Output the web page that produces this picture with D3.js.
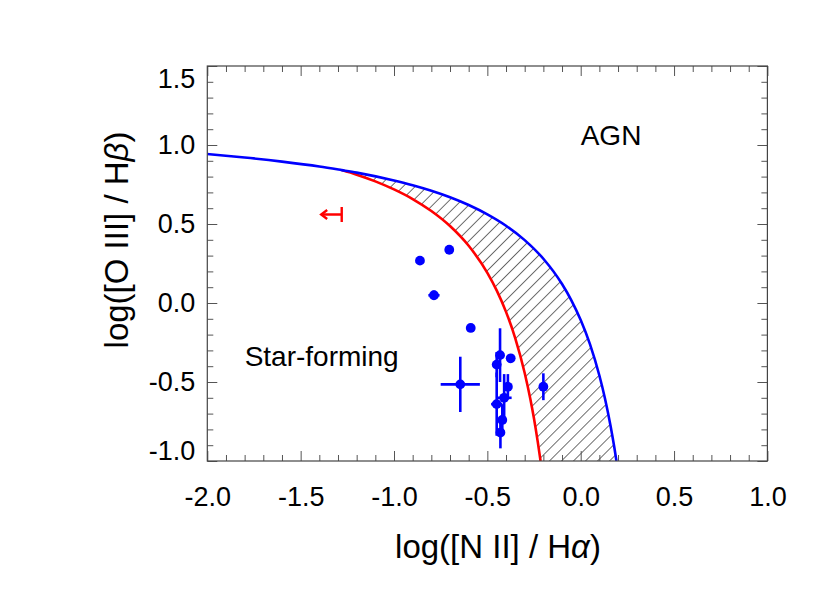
<!DOCTYPE html>
<html><head><meta charset="utf-8">
<script src="https://cdn.jsdelivr.net/npm/d3@7"></script>
<style>
body{margin:0;background:#fff}
text{font-family:"Liberation Sans",Arial,Helvetica,sans-serif;fill:#000}
</style>
</head><body>
<svg id="chart" width="830" height="593"></svg>
<script>
// ---- data ----
const xTickValues = [-2.0, -1.5, -1.0, -0.5, 0.0, 0.5, 1.0];
const xTickLabels = ["-2.0", "-1.5", "-1.0", "-0.5", "0.0", "0.5", "1.0"];
const yTickValues = [-1.0, -0.5, 0.0, 0.5, 1.0, 1.5];
const yTickLabels = ["-1.0", "-0.5", "0.0", "0.5", "1.0", "1.5"];

// maximum-starburst line (blue)
const kewleyX = [-2.0, -1.8, -1.6, -1.4, -1.28, -1.2, -1.0, -0.9, -0.8, -0.7, -0.6, -0.5, -0.4, -0.3, -0.2, -0.1, -0.05, 0.0, 0.05, 0.1, 0.13, 0.16, 0.18, 0.1915];
const kewleyY = [0.943, 0.921, 0.895, 0.864, 0.841, 0.825, 0.775, 0.745, 0.710, 0.669, 0.620, 0.561, 0.489, 0.398, 0.280, 0.120, 0.017, -0.108, -0.262, -0.459, -0.604, -0.778, -0.913, -1.0];
// empirical star-forming line (red)
const kauffX = [-1.28, -1.2, -1.1, -1.0, -0.9, -0.8, -0.7, -0.6, -0.5, -0.45, -0.4, -0.35, -0.3, -0.27, -0.25, -0.23, -0.215];
const kauffY = [0.841, 0.812, 0.770, 0.719, 0.658, 0.582, 0.487, 0.362, 0.191, 0.080, -0.056, -0.225, -0.443, -0.606, -0.733, -0.879, -1.0];

// galaxies (blue points with error bars)
const galNII     = [-0.861, -0.704, -0.786, -0.589, -0.645, -0.432, -0.450, -0.375, -0.390, -0.410, -0.450, -0.420, -0.430, -0.200];
const galOIII    = [ 0.268,  0.337,  0.049, -0.158, -0.515, -0.330, -0.390, -0.350, -0.530, -0.600, -0.640, -0.740, -0.820, -0.530];
const galNIIerr  = [ 0.0,    0.0,    0.03,   0.02,   0.105,  0.02,   0.02,   0.0,    0.02,   0.04,   0.03,   0.02,   0.02,   0.0];
const galOIIIerr = [ 0.0,    0.0,    0.03,   0.02,   0.175,  0.17,   0.08,   0.0,    0.08,   0.15,   0.20,   0.10,   0.10,   0.085];

// upper limit in [N II] (red)
const limNII = [-1.28];
const limOIII = [0.56];
const limLength = [0.11];

// region labels
const regionText = ["AGN", "Star-forming"];
const regionX = [0.0, -1.8];
const regionY = [1.0, -0.4];

// ---- drawing ----
const svg = d3.select("#chart");
svg.append("rect").attr("width", 830).attr("height", 593).attr("fill", "#fff");

const L = 207.3, R = 767.4, T = 66, B = 461;
const x = d3.scaleLinear().domain([-2.0, 1.0]).range([L, R]);
const y = d3.scaleLinear().domain([-1.0, 1.5]).range([B, T]);

const defs = svg.append("defs");
defs.append("clipPath").attr("id", "plotclip")
  .append("rect").attr("x", L).attr("y", T).attr("width", R - L).attr("height", B - T);
const pat = defs.append("pattern").attr("id", "hatch")
  .attr("patternUnits", "userSpaceOnUse").attr("width", 8.5).attr("height", 10)
  .attr("patternTransform", "rotate(45)");
pat.append("line").attr("x1", 0).attr("y1", 0).attr("x2", 0).attr("y2", 10)
  .attr("stroke", "#222").attr("stroke-width", 1.3);

const plot = svg.append("g").attr("clip-path", "url(#plotclip)");

const kew = kewleyX.map((v, i) => [v, kewleyY[i]]);
const kau = kauffX.map((v, i) => [v, kauffY[i]]);

// hatched band between the two lines
const band = kew.filter(p => p[0] >= kauffX[0]).concat(kau.slice().reverse());
plot.append("path")
  .attr("d", d3.line().x(d => x(d[0])).y(d => y(d[1])).curve(d3.curveLinearClosed)(band))
  .attr("fill", "url(#hatch)").attr("stroke", "none");

const line = d3.line().x(d => x(d[0])).y(d => y(d[1])).curve(d3.curveMonotoneX);
plot.append("path").attr("d", line(kau)).attr("fill", "none").attr("stroke", "#ff0000").attr("stroke-width", 2.6);
plot.append("path").attr("d", line(kew)).attr("fill", "none").attr("stroke", "#0000ff").attr("stroke-width", 2.6);

// error bars
const eb = plot.append("g").attr("stroke", "#0000ff").attr("stroke-width", 2.6);
galNII.forEach((v, i) => {
  if (galNIIerr[i] > 0)
    eb.append("line").attr("x1", x(v - galNIIerr[i])).attr("x2", x(v + galNIIerr[i]))
      .attr("y1", y(galOIII[i])).attr("y2", y(galOIII[i]));
  if (galOIIIerr[i] > 0)
    eb.append("line").attr("x1", x(v)).attr("x2", x(v))
      .attr("y1", y(galOIII[i] - galOIIIerr[i])).attr("y2", y(galOIII[i] + galOIIIerr[i]));
});
plot.append("g").selectAll("circle").data(galNII).join("circle")
  .attr("cx", d => x(d)).attr("cy", (d, i) => y(galOIII[i])).attr("r", 4.9).attr("fill", "#0000ff");

// upper limit
const lim = plot.append("g").attr("stroke", "#ff0000").attr("stroke-width", 2.4).attr("fill", "none");
limNII.forEach((v, i) => {
  const cx = x(v), cy = y(limOIII[i]), x0 = x(v - limLength[i]);
  lim.append("line").attr("x1", cx).attr("x2", cx).attr("y1", cy - 7.5).attr("y2", cy + 7.5);
  lim.append("line").attr("x1", cx).attr("x2", x0).attr("y1", cy).attr("y2", cy);
  lim.append("path").attr("d", `M${x0 + 6},${cy - 4.5} L${x0},${cy} L${x0 + 6},${cy + 4.5}`);
});

// region labels
svg.append("g").selectAll("text").data(regionText).join("text")
  .attr("x", (d, i) => x(regionX[i])).attr("y", (d, i) => y(regionY[i]))
  .attr("font-size", 28).text(d => d);

// axes
const tickColor = "#555";
const majX = xTickValues, majY = yTickValues;
const minX = x.ticks(30).filter(v => !majX.some(m => Math.abs(m - v) < 1e-6));
const minY = y.ticks(25).filter(v => !majY.some(m => Math.abs(m - v) < 1e-6));

function style(g) {
  g.select(".domain").remove();
  g.selectAll(".tick line").attr("stroke", tickColor).attr("stroke-width", 1);
}

// bottom
svg.append("g").attr("transform", `translate(0,${B})`)
  .call(d3.axisBottom(x).tickValues(majX).tickSize(-10).tickPadding(26)
    .tickFormat((d, i) => xTickLabels[i]))
  .call(style)
  .call(g => g.selectAll("text").attr("font-size", 27).attr("font-family", "Liberation Sans, Arial, sans-serif"));
svg.append("g").attr("transform", `translate(0,${B})`)
  .call(d3.axisBottom(x).tickValues(minX).tickSize(-6).tickFormat("")).call(style);
// top
svg.append("g").attr("transform", `translate(0,${T})`)
  .call(d3.axisTop(x).tickValues(majX).tickSize(-10).tickFormat("")).call(style);
svg.append("g").attr("transform", `translate(0,${T})`)
  .call(d3.axisTop(x).tickValues(minX).tickSize(-6).tickFormat("")).call(style);
// left
svg.append("g").attr("transform", `translate(${L},0)`)
  .call(d3.axisLeft(y).tickValues(majY).tickSize(-10).tickPadding(12)
    .tickFormat((d, i) => yTickLabels[i]))
  .call(style)
  .call(g => g.selectAll("text").attr("font-size", 27).attr("font-family", "Liberation Sans, Arial, sans-serif")
    .attr("y", d => d === 1.5 ? 13 : (d === -1.0 ? -10 : 0)));
svg.append("g").attr("transform", `translate(${L},0)`)
  .call(d3.axisLeft(y).tickValues(minY).tickSize(-6).tickFormat("")).call(style);
// right
svg.append("g").attr("transform", `translate(${R},0)`)
  .call(d3.axisRight(y).tickValues(majY).tickSize(-10).tickFormat("")).call(style);
svg.append("g").attr("transform", `translate(${R},0)`)
  .call(d3.axisRight(y).tickValues(minY).tickSize(-6).tickFormat("")).call(style);

// frame
svg.append("rect").attr("x", L).attr("y", T).attr("width", R - L).attr("height", B - T)
  .attr("fill", "none").attr("stroke", "#444").attr("stroke-width", 1.2);

// axis titles
const xt = svg.append("text").attr("x", 498).attr("y", 558).attr("text-anchor", "middle")
  .attr("font-size", 33);
xt.append("tspan").text("log([N II] / H");
xt.append("tspan").attr("font-style", "italic").text("\u03B1");
xt.append("tspan").text(")");
const yt = svg.append("text").attr("transform", `translate(128,240) rotate(-90)`)
  .attr("text-anchor", "middle").attr("font-size", 33);
yt.append("tspan").text("log([O III] / H");
yt.append("tspan").attr("font-style", "italic").text("\u03B2");
yt.append("tspan").text(")");
</script>
</body></html>
